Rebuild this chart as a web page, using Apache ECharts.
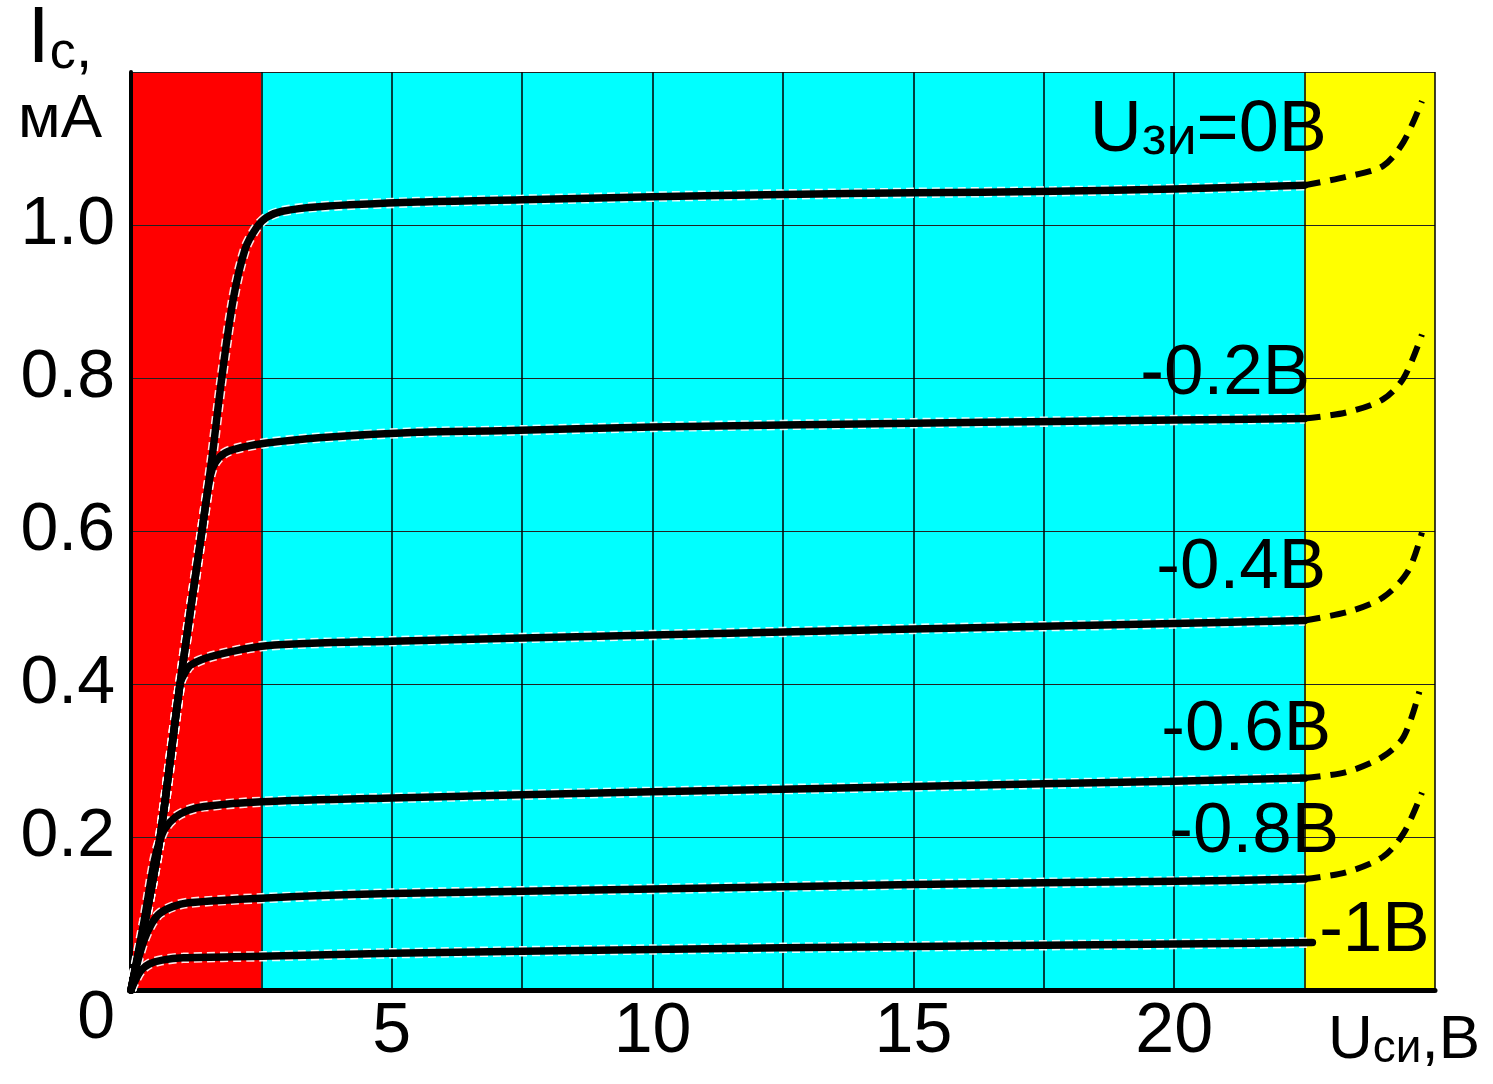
<!DOCTYPE html>
<html lang="ru">
<head>
<meta charset="utf-8">
<title>Стоковые характеристики</title>
<script src="https://cdn.jsdelivr.net/npm/echarts@6/dist/echarts.min.js"></script>
<style>
  html, body { margin: 0; padding: 0; background: #fff; }
  #chart { width: 1493px; height: 1084px; }
</style>
</head>
<body>
<div id="chart"></div>
<script>
// drain curves, [Uси (В), Iс (мА)]
const u0 = [[0,0],[0.3,0.1],[0.56,0.2],[0.94,0.4],[1.36,0.6],[1.55,0.694],[1.74,0.8],[1.96,0.903],[2.19,0.969],[2.41,0.997],[2.6,1.01],[2.9,1.018],[3.6,1.024],[5.5,1.03],[7.5,1.033],[10,1.037],[12.5,1.04],[15,1.042],[17.7,1.044],[20,1.047],[22.5,1.052]];
const u02 = [[0,0],[0.3,0.1],[0.56,0.2],[0.94,0.4],[1.36,0.6],[1.52,0.672],[1.62,0.69],[1.8,0.702],[2.1,0.709],[2.6,0.715],[3.6,0.722],[5.5,0.729],[7.1,0.731],[10,0.736],[15,0.741],[17.7,0.743],[20,0.745],[22.5,0.747]];
const u04 = [[0,0],[0.3,0.1],[0.56,0.2],[0.94,0.4],[1.02,0.413],[1.15,0.425],[1.6,0.437],[2.6,0.45],[5,0.456],[10,0.464],[15,0.472],[20,0.479],[22.5,0.483]];
const u06 = [[0,0],[0.25,0.09],[0.45,0.17],[0.55,0.195],[0.65,0.211],[0.85,0.226],[1.1,0.235],[1.4,0.24],[2.5,0.246],[5,0.251],[10,0.259],[15,0.266],[20,0.273],[22.5,0.277]];
const u08 = [[0,0],[0.1,0.03],[0.25,0.065],[0.4,0.087],[0.55,0.1],[0.8,0.109],[1.1,0.114],[2.5,0.12],[5,0.126],[10,0.132],[15,0.138],[20,0.142],[22.5,0.145]];
const u10 = [[0,0],[0.1,0.015],[0.2,0.026],[0.35,0.034],[0.6,0.039],[1.0,0.042],[2.5,0.044],[5,0.048],[10,0.053],[15,0.057],[20,0.06],[22.65,0.062]];

// breakdown tails (dashed)
const d0 = [[22.5,1.052],[23.3,1.063],[24.0,1.077],[24.4,1.109],[24.75,1.162]];
const d02 = [[22.5,0.747],[23.3,0.755],[24.0,0.772],[24.4,0.8],[24.75,0.857]];
const d04 = [[22.5,0.483],[23.37,0.495],[24.0,0.513],[24.48,0.547],[24.75,0.598]];
const d06 = [[22.5,0.277],[23.3,0.285],[24.0,0.305],[24.4,0.331],[24.7,0.39]];
const d08 = [[22.5,0.145],[23.3,0.154],[24.0,0.174],[24.4,0.205],[24.75,0.258]];

const gateLabels = ['{a|U}{b|зи}{a|=0В}', '-0.2В', '-0.4В', '-0.6В', '-0.8В', '-1В'];
const labelAt = [20, 20, 20, 20, 20, 22.65];   // Uси of the point a label hangs on
const regions = [[0, 2.5, '#ff0000'], [2.5, 22.5, '#00ffff'], [22.5, 25, '#ffff00']];
const xTicks = [5, 10, 15, 20];
const yTicks = [0.2, 0.4, 0.6, 0.8, 1.0];

const FONT = '"Liberation Sans", Arial, sans-serif';
const solid = [u0, u02, u04, u06, u08, u10];
const tails = [d0, d02, d04, d06, d08];
const labelOffsets = [[34, -58], [51, -46], [67, -55], [72, -51], [80, -49], [62, -11]];

const series = [];

// background bands, under the grid lines
series.push({
  type: 'line', data: [], z: 1, silent: true,
  markArea: {
    silent: true,
    itemStyle: { opacity: 1 },
    data: regions.map(r => [{ xAxis: r[0], itemStyle: { color: r[2] } }, { xAxis: r[1] }])
  }
});

solid.forEach((c, i) => {
  // white dashed halo like the original drawing
  series.push({
    type: 'line', data: c, z: 5, silent: true, symbol: 'none',
    smooth: 0.3,
    lineStyle: { color: '#fff', width: 10.5, type: [8, 5], opacity: 0.9 }
  });
  series.push({
    type: 'line', z: 6, silent: true,
    smooth: 0.3,
    showSymbol: true, symbol: 'circle', symbolSize: 2,
    lineStyle: { color: '#000', width: 7.5, cap: 'round', join: 'round' },
    itemStyle: { color: '#000' },
    data: c.map(p => {
      if (p[0] !== labelAt[i]) return p;
      return {
        value: p,
        label: {
          show: true, position: 'inside', offset: labelOffsets[i],
          formatter: gateLabels[i], color: '#000',
          fontFamily: FONT, fontSize: 71,
          rich: {
            a: { fontFamily: FONT, fontSize: 72, lineHeight: 70, color: '#000' },
            b: { fontFamily: FONT, fontSize: 54, lineHeight: 44, verticalAlign: 'bottom', color: '#000' }
          }
        }
      };
    })
  });
});

tails.forEach(c => {
  series.push({
    type: 'line', data: c, z: 6, silent: true, symbol: 'none',
    smooth: 0.3,
    lineStyle: { color: '#000', width: 6, type: [16, 10] }
  });
});

const chart = echarts.init(document.getElementById('chart'), null, { renderer: 'canvas' });
chart.setOption({
  animation: false,
  backgroundColor: '#fff',
  grid: { left: 131, right: 58, top: 72, bottom: 94, containLabel: false },
  xAxis: {
    type: 'value', min: 0, max: 25, interval: 2.5, z: 3,
    name: '{a|U}{b|си}{a|,В}',
    nameLocation: 'end', nameGap: 45,
    nameTextStyle: {
      align: 'right', verticalAlign: 'top', padding: [20, 0, 0, 0],
      fontFamily: FONT, color: '#000',
      rich: {
        a: { fontFamily: FONT, fontSize: 62, lineHeight: 62, color: '#000' },
        b: { fontFamily: FONT, fontSize: 46, lineHeight: 50, verticalAlign: 'bottom', color: '#000' }
      }
    },
    axisLine: { show: true, onZero: false, lineStyle: { color: '#000', width: 5 } },
    axisTick: { show: false },
    axisLabel: {
      margin: 8, color: '#000', fontFamily: FONT, fontSize: 70,
      showMinLabel: true, showMaxLabel: true,
      formatter: v => xTicks.includes(v) ? String(v) : ''
    },
    splitLine: { show: true, lineStyle: { color: '#000', width: 1.5 } }
  },
  yAxis: {
    type: 'value', min: 0, max: 1.2, interval: 0.2, z: 3,
    name: '{a|I}{b|c}{c|,}\n{d|мА}',
    nameLocation: 'end', nameGap: -88,
    nameTextStyle: {
      align: 'center', verticalAlign: 'bottom', padding: [0, 142, 0, 0],
      fontFamily: FONT, color: '#000',
      rich: {
        a: { fontFamily: FONT, fontSize: 80, lineHeight: 80, color: '#000' },
        b: { fontFamily: FONT, fontSize: 52, lineHeight: 52, verticalAlign: 'bottom', color: '#000' },
        c: { fontFamily: FONT, fontSize: 60, lineHeight: 60, verticalAlign: 'bottom', color: '#000' },
        d: { fontFamily: FONT, fontSize: 62, lineHeight: 80, color: '#000' }
      }
    },
    axisLine: { show: true, onZero: false, lineStyle: { color: '#000', width: 4 } },
    axisTick: { show: false },
    axisLabel: {
      margin: 16, color: '#000', fontFamily: FONT, fontSize: 68,
      showMinLabel: true, showMaxLabel: true,
      formatter: v => {
        if (v === 0) return '{z|0}';
        const t = yTicks.find(y => Math.abs(y - v) < 1e-6);
        return t === undefined ? '' : t.toFixed(1);
      },
      rich: { z: { fontFamily: FONT, fontSize: 68, padding: [58, 0, 0, 0], color: '#000' } }
    },
    splitLine: { show: true, lineStyle: { color: '#222', width: 1.2 } }
  },
  series: series
});
</script>
</body>
</html>
